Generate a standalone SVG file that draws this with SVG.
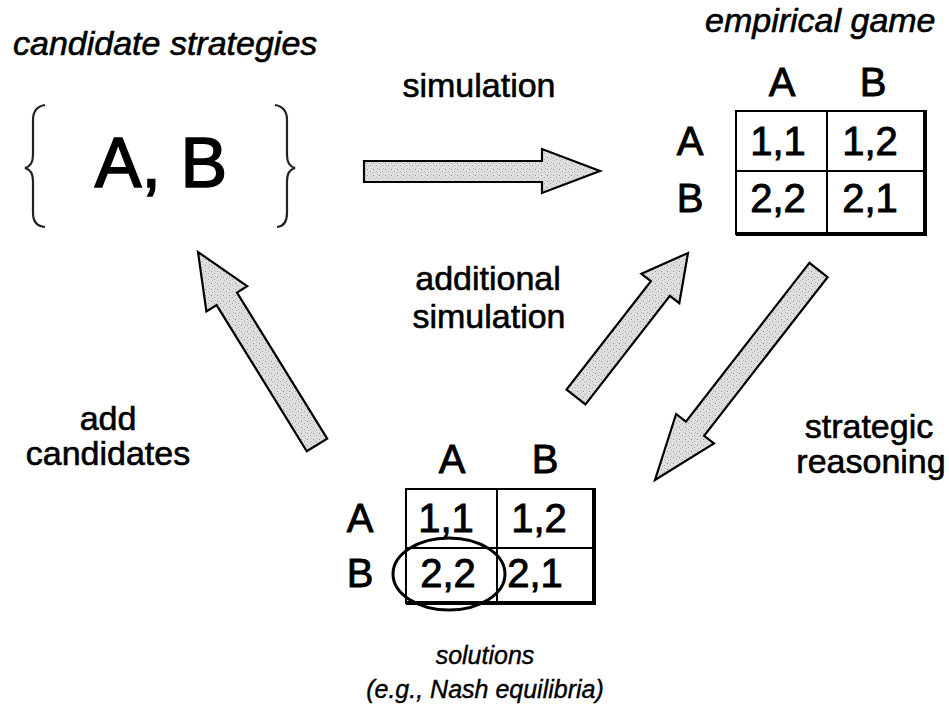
<svg xmlns="http://www.w3.org/2000/svg" width="949" height="710" viewBox="0 0 949 710">
  <defs>
    <pattern id="stipple" width="6" height="6" patternUnits="userSpaceOnUse">
      <rect width="6" height="6" fill="#dedede"/>
      <rect x="1" y="1" width="1" height="1" fill="#949494"/>
      <rect x="4" y="3" width="1" height="1" fill="#aaaaaa"/>
      <rect x="2" y="4" width="1" height="1" fill="#bdbdbd"/>
      <rect x="5" y="0" width="1" height="1" fill="#bbbbbb"/>
    </pattern>
  </defs>
  <style>
    text { font-family: "Liberation Sans", Arial, sans-serif; fill: #000; stroke: #000; stroke-width: 0.6; }
    .it { font-style: italic; font-size: 34px; }
    .lbl { font-size: 34px; text-anchor: middle; }
    .big { font-size: 40px; text-anchor: middle; stroke-width: 0.9; }
    .sol { font-style: italic; font-size: 25px; text-anchor: middle; stroke-width: 0.4; }
    .arrow { fill: url(#stipple); stroke: #000; stroke-width: 2.2; stroke-linejoin: miter; }
    .grid { fill: none; stroke: #000; stroke-width: 2; }
    .thick { stroke: #000; stroke-width: 4; }
    .brace { fill: none; stroke: #222; stroke-width: 2.2; }
  </style>
  <rect width="949" height="710" fill="#fff"/>

  <g id="candidates">
    <text class="it" x="13" y="55">candidate strategies</text>
    <path class="brace" d="M45,105 Q33,107 33,120 L33,155 Q33,166 25,168 Q33,170 33,181 L33,213 Q33,226 45,227"/>
    <path class="brace" d="M275,105 Q287,107 287,120 L287,155 Q287,166 295,168 Q287,170 287,181 L287,213 Q287,226 277,227"/>
    <text x="161" y="187" style="font-size:70px;text-anchor:middle;stroke-width:1.6">A, B</text>
  </g>

  <g id="empirical-game">
    <text class="it" x="705" y="32">empirical game</text>
    <text class="big" x="782" y="96">A</text>
    <text class="big" x="873" y="96">B</text>
    <text class="big" x="690" y="155">A</text>
    <text class="big" x="690" y="212">B</text>
    <rect class="grid" x="736" y="111" width="189" height="123"/>
    <line class="grid" x1="827" y1="111" x2="827" y2="234"/>
    <line class="grid" x1="736" y1="171" x2="925" y2="171"/>
    <line class="thick" x1="925" y1="110" x2="925" y2="236"/>
    <line class="thick" x1="736" y1="234" x2="927" y2="234"/>
    <text class="big" x="778" y="155">1,1</text>
    <text class="big" x="870" y="155">1,2</text>
    <text class="big" x="778" y="212">2,2</text>
    <text class="big" x="870" y="212">2,1</text>
  </g>

  <g id="solutions">
    <text class="big" x="452" y="473">A</text>
    <text class="big" x="545" y="473">B</text>
    <text class="big" x="360" y="532">A</text>
    <text class="big" x="360" y="587">B</text>
    <rect class="grid" x="406" y="489" width="188" height="114"/>
    <line class="grid" x1="497" y1="489" x2="497" y2="603"/>
    <line class="grid" x1="406" y1="548" x2="594" y2="548"/>
    <line class="thick" x1="594" y1="488" x2="594" y2="605"/>
    <line class="thick" x1="406" y1="603" x2="596" y2="603"/>
    <text class="big" x="446" y="532">1,1</text>
    <text class="big" x="539" y="532">1,2</text>
    <text class="big" x="448" y="587">2,2</text>
    <text class="big" x="535" y="587">2,1</text>
    <ellipse cx="449" cy="574" rx="56" ry="36" fill="none" stroke="#000" stroke-width="3"/>
    <text class="sol" x="485" y="664">solutions</text>
    <text class="sol" x="485" y="698">(e.g., Nash equilibria)</text>
  </g>

  <g id="connectors">
    <polygon class="arrow" points="364,161 542,161 542,149 600,171 542,193 542,182 364,182"/>
    <polygon class="arrow" points="585.5,404.4 669.9,295.9 679.3,303.2 688,253 641.4,273.8 650.9,281.1 566.5,389.6"/>
    <polygon class="arrow" points="809.4,262.9 685.9,421.6 676.1,414 655,480 714,443.5 704.1,435.8 827.6,277.1"/>
    <polygon class="arrow" points="327.2,438.7 237,292.5 247.2,286.2 198,252 206.4,311.4 216.6,305.1 306.8,451.3"/>
    <text class="lbl" x="479" y="97">simulation</text>
    <text class="lbl" x="488" y="290">additional</text>
    <text class="lbl" x="489" y="328">simulation</text>
    <text class="lbl" x="869" y="438">strategic</text>
    <text class="lbl" x="871" y="473">reasoning</text>
    <text class="lbl" x="108" y="430">add</text>
    <text class="lbl" x="108" y="465">candidates</text>
  </g>
</svg>
